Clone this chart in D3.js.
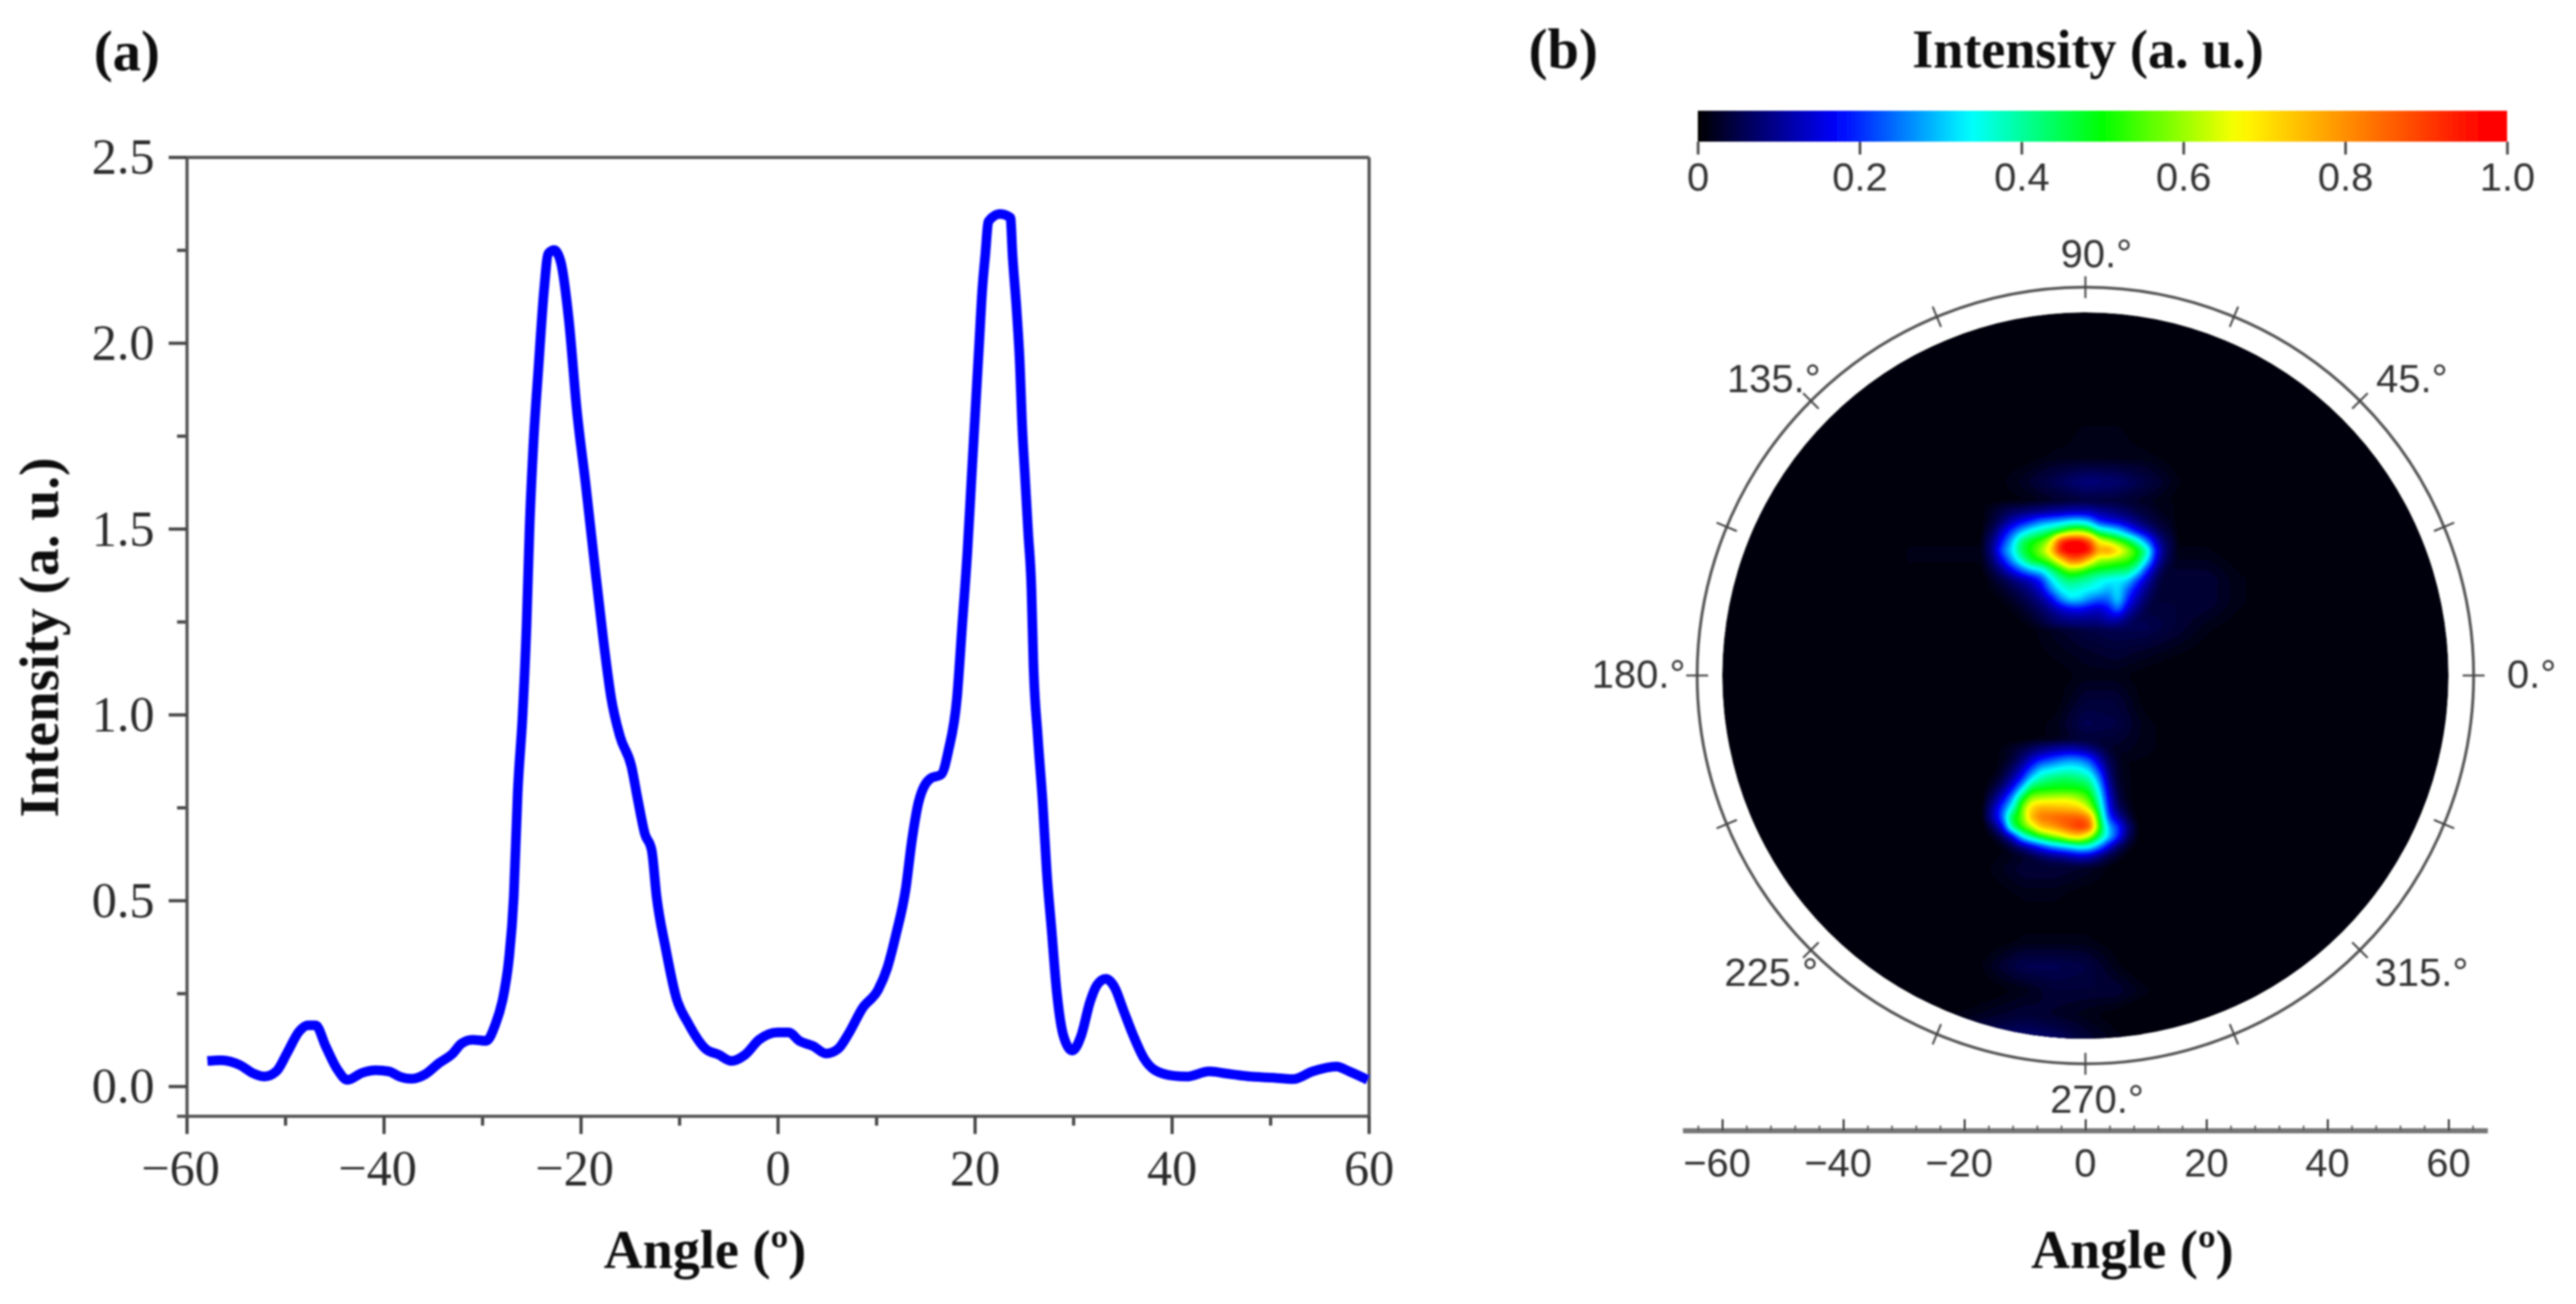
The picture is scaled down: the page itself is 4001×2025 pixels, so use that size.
<!DOCTYPE html>
<html>
<head>
<meta charset="utf-8">
<script src="https://cdn.jsdelivr.net/npm/d3@7"></script>
<style>
    html, body { margin: 0; padding: 0; background: #fff; }
    svg { display: block; }
</style>
</head>
<body>
<div id="chart"></div>
<script>
"use strict";

/***** data *****/

// panel (a), intensity against angle
const angles = [-57.9,-56.5,-54.6,-53.2,-52.1,-50.9,-49.8,-48.6,-47.7,-46.9,-45.9,-44.7,-43.7,-42.2,-40.8,-39.5,-38.3,-37.2,-35.8,-34.4,
    -33,-32.1,-31,-29.6,-28.7,-27.8,-27.3,-26.8,-26.4,-25.9,-25.5,-25.2,-24.8,-24.3,-23.7,-23.3,-22.7,-22.05,-21.2,-20.4,
    -19.5,-18.7,-17.7,-16.9,-16,-14.85,-14.2,-13.5,-12.8,-12.3,-11.4,-10.3,-9.1,-7.3,-6,-4.7,-3.3,-1.9,0,1.1,
    2.2,3.6,4.9,6.1,7.2,8.6,10.2,11.1,12,13,13.6,14.3,15.5,16.6,17.34,18.19,18.73,19.26,19.68,20,
    20.43,20.75,21.07,21.39,22.55,23.62,23.83,24.25,24.58,24.79,25.1,25.42,25.75,25.95,26.39,26.9,27.3,27.8,28.3,29,
    29.9,30.8,31.7,32.4,33.3,34.2,35.1,36.1,37.2,38.3,40.2,41.5,43.8,45.6,48,50.2,52.3,54.3,56.7,58,59.9];
const intensity = [.068,.07,.057,.034,.026,.04,.09,.147,.164,.164,.108,.045,.017,.036,.043,.04,.025,.02,.032,.062,
    .088,.115,.125,.122,.164,.25,.34,.51,.79,1.0,1.24,1.5,1.73,1.93,2.15,2.24,2.25,2.22,2.06,1.82,
    1.62,1.43,1.2,1.043,.94,.86,.77,.68,.635,.51,.374,.238,.17,.10,.085,.068,.085,.125,.145,.145,
    .122,.108,.088,.10,.142,.21,.26,.317,.408,.533,.658,.765,.828,.839,.905,1.044,1.243,1.442,1.641,1.79,
    1.99,2.139,2.238,2.327,2.347,2.337,2.238,2.088,1.94,1.79,1.64,1.49,1.34,1.14,.944,.76,.58,.42,.26,.136,
    .096,.136,.227,.272,.289,.266,.204,.136,.074,.043,.028,.026,.04,.034,.026,.023,.019,.04,.053,.04,.017];

const xMajor = [-60,-40,-20,0,20,40,60],
    xMinor = [-50,-30,-10,10,30,50],
    yMajor = [0,0.5,1,1.5,2,2.5],
    yMinor = [0.25,0.75,1.25,1.75,2.25];

// colour bar
const barStops = [0,.173,.337,.5,.667,.97,1],
    barColors = ["#000000","#0000ff","#00ffff","#00ff00","#ffff00","#ff0000","#ff0000"],
    barTicks = [0,0.2,0.4,0.6,0.8,1],
    barLabels = ["0","0.2","0.4","0.6","0.8","1.0"];

// panel (b), intensity per cell, rows run downwards. upper spot: first cell at
// (-16.88, 28.56) degrees, 1.59 degrees per cell
const upperSpot = [
    [.02,.02,.03,.03,.03,.04,.04,.05,.05,.06,.06,.06,.05,.05,.05,.04,.03,.03,.02,.02,.02],
    [.02,.03,.05,.07,.08,.09,.10,.11,.12,.13,.13,.13,.11,.10,.08,.07,.05,.04,.03,.02,.02],
    [.02,.04,.08,.13,.17,.21,.26,.28,.30,.33,.34,.30,.20,.17,.15,.12,.09,.06,.04,.03,.02],
    [.03,.06,.14,.22,.30,.36,.40,.44,.50,.58,.60,.55,.42,.38,.33,.25,.17,.12,.07,.04,.03],
    [.04,.09,.19,.30,.44,.50,.54,.64,.92,1,1,.90,.68,.62,.55,.48,.38,.25,.13,.06,.04],
    [.04,.10,.24,.33,.46,.52,.60,.72,.96,1,1,.98,.78,.82,.72,.62,.52,.40,.17,.07,.04],
    [.03,.08,.17,.28,.38,.48,.52,.58,.70,.85,.85,.72,.60,.58,.56,.54,.48,.33,.14,.06,.03],
    [.02,.05,.10,.17,.24,.30,.33,.42,.50,.58,.56,.50,.48,.47,.45,.44,.36,.20,.09,.04,.02],
    [.01,.03,.05,.08,.11,.14,.20,.32,.40,.44,.42,.40,.36,.34,.33,.32,.22,.13,.06,.03,.01],
    [.01,.02,.03,.05,.07,.10,.15,.26,.34,.37,.36,.34,.33,.29,.33,.24,.16,.09,.05,.02,.01],
    [.01,.01,.02,.03,.05,.07,.10,.16,.26,.33,.32,.27,.24,.24,.33,.20,.12,.07,.04,.02,.01],
    [0,.01,.01,.02,.03,.05,.07,.10,.14,.17,.18,.16,.14,.18,.26,.14,.09,.05,.03,.01,.01],
    [0,0,.01,.01,.02,.03,.05,.07,.09,.10,.10,.10,.10,.13,.13,.09,.06,.04,.02,.01,0],
    [0,0,0,.01,.01,.02,.03,.05,.06,.07,.07,.07,.07,.08,.07,.06,.04,.03,.02,.01,0]
];
// lower spot: first cell at (-16.88, -10.72) degrees, same step
const lowerSpot = [
    [.01,.01,.01,.02,.02,.03,.04,.04,.05,.05,.05,.04,.03,.02,.01,.01,.01],
    [.01,.01,.02,.03,.05,.07,.09,.11,.12,.13,.12,.10,.07,.04,.02,.01,.01],
    [.01,.01,.02,.04,.08,.14,.19,.22,.25,.27,.26,.22,.13,.06,.03,.01,.01],
    [.01,.01,.03,.07,.13,.22,.31,.33,.35,.36,.35,.31,.20,.08,.03,.02,.01],
    [.01,.02,.05,.11,.19,.33,.40,.43,.45,.45,.43,.40,.27,.10,.03,.02,.01],
    [.01,.04,.09,.17,.31,.47,.49,.50,.50,.50,.50,.47,.33,.13,.04,.02,.01],
    [.02,.07,.15,.27,.47,.60,.62,.63,.64,.64,.60,.54,.38,.16,.05,.02,.01],
    [.03,.11,.22,.35,.56,.72,.77,.76,.75,.74,.72,.62,.44,.18,.07,.03,.01],
    [.03,.12,.24,.48,.56,.76,.84,.85,.87,.87,.87,.82,.50,.22,.12,.05,.01],
    [.01,.06,.16,.42,.54,.62,.75,.78,.83,.88,.93,.90,.55,.30,.21,.09,.03],
    [.01,.02,.06,.14,.32,.42,.50,.57,.62,.70,.72,.62,.46,.32,.20,.07,.02],
    [0,.01,.02,.05,.09,.14,.20,.26,.30,.33,.37,.36,.27,.16,.07,.03,.01],
    [0,0,.01,.02,.03,.05,.07,.09,.10,.12,.14,.13,.09,.05,.03,.01,0],
    [0,0,0,.01,.01,.02,.03,.04,.04,.05,.05,.05,.04,.02,.01,0,0]
];
// faint glow around the spots, in hundredths. columns -30 to 30 by 5, rows 60 to -64 by -4
const faintGlow = [
    [0,0,0,0,0,0,0,0,0,0,0,0,0],
    [0,0,0,0,0,0,0,0,0,0,0,0,0],
    [0,0,0,0,0,1,1,1,0,0,0,0,0],
    [0,0,0,0,1,1,1,1,1,1,0,0,0],
    [0,0,0,1,1,1,1,1,1,1,0,0,0],
    [0,0,0,1,1,1,2,2,1,1,0,0,0],
    [0,0,0,1,1,2,2,2,2,1,0,0,0],
    [0,0,0,1,3,6,9,8,5,2,0,0,0],
    [0,0,0,1,1,2,3,3,2,1,0,0,0],
    [1,1,1,1,1,1,2,2,1,1,1,0,0],
    [2,2,2,2,2,2,2,2,2,2,2,1,0],
    [1,1,1,1,2,2,2,2,3,4,4,2,1],
    [0,1,1,1,2,3,4,4,4,4,4,2,1],
    [0,0,0,1,1,3,5,6,6,4,2,1,0],
    [0,0,0,0,1,2,3,4,3,2,1,0,0],
    [0,0,0,0,0,1,2,2,1,0,0,0,0],
    [0,0,0,0,0,1,4,4,1,0,0,0,0],
    [0,0,0,0,1,2,6,5,2,1,0,0,0],
    [0,0,0,0,1,2,3,3,2,1,0,0,0],
    [0,0,0,0,1,1,1,1,1,1,0,0,0],
    [0,0,0,1,1,1,1,1,1,1,1,0,0],
    [0,0,0,1,1,1,1,1,1,1,1,1,0],
    [0,0,0,1,2,2,2,2,1,1,1,1,0],
    [0,0,0,2,4,4,3,1,1,0,0,0,0],
    [0,0,0,1,2,2,1,1,0,0,0,0,0],
    [0,0,0,0,1,1,1,0,0,0,0,0,0],
    [0,0,0,1,2,2,2,1,0,0,0,0,0],
    [0,0,0,3,6,6,5,2,0,0,0,0,0],
    [0,0,0,1,2,4,4,4,2,0,0,0,0],
    [0,1,2,3,4,3,2,1,0,0,0,0,0],
    [0,3,5,7,8,7,4,2,1,0,0,0,0],
    [0,3,5,7,8,7,4,2,1,0,0,0,0]
];

const bAxisMajor = [-60,-40,-20,0,20,40,60],
    bAxisMinor = d3.range(-64,65,4).filter(d => d % 20 != 0),
    ringAngles = d3.range(0,360,22.5),
    ringLabels = ["0.°","45.°","90.°","135.°","180.°","225.°","270.°","315.°"];

/***** helpers *****/

const serif = "'Liberation Serif', 'Times New Roman', serif",
    sans = "'Liberation Sans', Arial, sans-serif",
    minus = d => String(d).replace("-", "\u2212");

function styleAxis(g, lineWidth) {
    g.selectAll("path.domain").attr("stroke", "#555").attr("stroke-width", lineWidth);
    g.selectAll("line").attr("stroke", "#444").attr("stroke-width", lineWidth);
}

function lookup(grid, u0, v0, stepU, stepV, u, v) {
    // bilinear read of a grid, zero outside of it
    let fc = (u - u0) / stepU,
        fr = (v0 - v) / stepV,
        c = Math.floor(fc),
        r = Math.floor(fr);
    if (r < 0 || c < 0 || r >= grid.length - 1 || c >= grid[0].length - 1) return 0;
    let a = fc - c, b = fr - r;
    return (grid[r][c] * (1 - a) + grid[r][c + 1] * a) * (1 - b)
        + (grid[r + 1][c] * (1 - a) + grid[r + 1][c + 1] * a) * b;
}

/***** canvas *****/

const svg = d3.select("#chart").append("svg")
    .attr("width", 4001)
    .attr("height", 2025)
    .attr("viewBox", "0 0 4001 2025");

svg.append("rect").attr("width", 4001).attr("height", 2025).attr("fill", "#fff");

// the source figure is a soft scan, a slight blur brings the edges closer
const defs = svg.append("defs");
defs.append("filter").attr("id", "soft")
    .attr("filterUnits", "userSpaceOnUse")
    .attr("x", 0).attr("y", 0).attr("width", 4001).attr("height", 2025)
    .append("feGaussianBlur").attr("stdDeviation", 1.5);

const root = svg.append("g").attr("filter", "url(#soft)");

/***** panel (a) *****/

const x = d3.scaleLinear().domain([-60, 60]).range([290, 2126]),
    y = d3.scaleLinear().domain([-0.08, 2.5]).range([1733, 244]);

const a = root.append("g");

a.append("g").attr("transform", `translate(0, ${y(2.5)})`)
    .call(d3.axisTop(x).tickValues([]).tickSize(0))
    .call(styleAxis, 5);
a.append("g").attr("transform", `translate(${x(60)}, 0)`)
    .call(d3.axisRight(y).tickValues([]).tickSize(0))
    .call(styleAxis, 5);

a.append("g").attr("transform", `translate(0, ${y(-0.08)})`)
    .call(d3.axisBottom(x).tickValues(xMinor).tickSize(15).tickFormat(""))
    .call(styleAxis, 5);
let xAxis = a.append("g").attr("transform", `translate(0, ${y(-0.08)})`)
    .call(d3.axisBottom(x).tickValues(xMajor).tickSize(28).tickSizeOuter(0).tickPadding(24).tickFormat(minus))
    .call(styleAxis, 5);
xAxis.selectAll("text")
    .attr("font-family", serif).attr("font-size", 78).attr("fill", "#2c2c2c")
    .attr("dx", (d, i) => d < 0 ? -10 : 0);

a.append("g").attr("transform", `translate(${x(-60)}, 0)`)
    .call(d3.axisLeft(y).tickValues(yMinor).tickSize(15).tickFormat(""))
    .call(styleAxis, 5);
let yAxis = a.append("g").attr("transform", `translate(${x(-60)}, 0)`)
    .call(d3.axisLeft(y).tickValues(yMajor).tickSize(28).tickSizeOuter(0).tickPadding(22).tickFormat(d3.format(".1f")))
    .call(styleAxis, 5);
yAxis.selectAll("text")
    .attr("font-family", serif).attr("font-size", 78).attr("fill", "#2c2c2c");

const line = d3.line().x((d, i) => x(angles[i])).y(d => y(d)).curve(d3.curveMonotoneX);

a.append("path")
    .attr("d", line(intensity))
    .attr("fill", "none")
    .attr("stroke", "#0000ff")
    .attr("stroke-width", 15)
    .attr("stroke-linejoin", "round");

function boldLabel(parent, str, px, py, size) {
    return parent.append("text").text(str)
        .attr("x", px).attr("y", py)
        .attr("dy", "0.35em")
        .attr("text-anchor", "middle")
        .attr("font-family", serif)
        .attr("font-weight", "bold")
        .attr("font-size", size)
        .attr("fill", "#111");
}

boldLabel(a, "(a)", 197, 78, 88);
boldLabel(a, "Angle (º)", 1095, 1940, 84);
boldLabel(a, "Intensity (a. u.)", 0, 0, 86)
    .attr("transform", "translate(60, 990) rotate(-90)");

/***** panel (b), colour bar *****/

const b = root.append("g");

boldLabel(b, "(b)", 2428, 75, 88);
boldLabel(b, "Intensity (a. u.)", 3243, 76, 84);

const color = d3.scaleLinear().domain(barStops).range(barColors).clamp(true),
    barX = d3.scaleLinear().domain([0, 1]).range([2637, 3894]);

let grad = defs.append("linearGradient").attr("id", "bar");
grad.selectAll("stop").data(d3.range(0, 1.001, 0.02)).enter().append("stop")
    .attr("offset", d => d)
    .attr("stop-color", d => color(d));

b.append("rect")
    .attr("x", barX(0)).attr("y", 172)
    .attr("width", barX(1) - barX(0)).attr("height", 48)
    .attr("fill", "url(#bar)");

let barAxis = b.append("g").attr("transform", "translate(0, 220)")
    .call(d3.axisBottom(barX).tickValues(barTicks).tickSize(20).tickSizeOuter(0).tickPadding(12)
        .tickFormat((d, i) => barLabels[i]));
barAxis.select("path.domain").remove();
barAxis.selectAll("line").attr("stroke", "#444").attr("stroke-width", 4);
barAxis.selectAll("text").attr("font-family", sans).attr("font-size", 62).attr("fill", "#333");

/***** panel (b), polar map *****/

const u = d3.scaleLinear().domain([-60, 60]).range([2675, 3803]),
    v = d3.scaleLinear().domain([-60, 60]).range([1613, 485]),
    radius = d3.scaleLinear().domain([0, 60]).range([0, u(60) - u(0)]);

const n = 420,
    cellSize = (u(60) - u(-60)) / n,
    step = 1.59,
    floorValue = 0.005,
    values = new Float64Array(n * n);

d3.range(n).forEach(r => {
    d3.range(n).forEach(c => {
        let uu = u.invert(u(-60) + (c + 0.5) * cellSize),
            vv = v.invert(v(60) + (r + 0.5) * cellSize);
        values[r * n + c] = Math.max(
            floorValue,
            lookup(upperSpot, -16.88, 28.56, step, step, uu, vv),
            lookup(lowerSpot, -16.88, -10.72, step, step, uu, vv),
            lookup(faintGlow, -30, 60, 5, 4, uu, vv) / 100
        );
    });
});

// cells are coarse, smooth them before tracing the colour levels
const smooth = d3.blur2({data: values, width: n, height: n}, 1).data;

const levels = d3.range(floorValue + 1 / 256, 1, 1 / 128);

const contours = d3.contours().size([n, n]).thresholds(levels)(Array.from(smooth));

const toScreen = d3.geoPath(d3.geoIdentity().scale(cellSize).translate([u(-60), v(60)]));

const centerX = u(0), centerY = v(0);

defs.append("clipPath").attr("id", "disc").append("circle")
    .attr("cx", centerX).attr("cy", centerY).attr("r", radius(60));

const map = b.append("g").attr("clip-path", "url(#disc)");

map.append("circle")
    .attr("cx", centerX).attr("cy", centerY).attr("r", radius(60))
    .attr("fill", color(floorValue));

map.selectAll("path").data(contours).enter().append("path")
    .attr("d", toScreen)
    .attr("fill", d => color(d.value));

// outer ring with its ticks
const ringR = radius(64.15),
    ring = b.append("g").attr("transform", `translate(${centerX}, ${centerY})`);

ring.append("circle").attr("r", ringR)
    .attr("fill", "none").attr("stroke", "#555").attr("stroke-width", 4.5);

ring.selectAll("line").data(ringAngles).enter().append("line")
    .attr("x1", d => (ringR - 17) * Math.cos(d * Math.PI / 180))
    .attr("y1", d => -(ringR - 17) * Math.sin(d * Math.PI / 180))
    .attr("x2", d => (ringR + 17) * Math.cos(d * Math.PI / 180))
    .attr("y2", d => -(ringR + 17) * Math.sin(d * Math.PI / 180))
    .attr("stroke", "#444").attr("stroke-width", 3);

const ringLabelSpot = [[693, -3], [507, -462], [17, -656], [-484, -462], [-694, -3], [-488, 460], [18, 657], [522, 460]];

ring.selectAll("text").data(ringLabels).enter().append("text")
    .text(d => d)
    .attr("x", (d, i) => ringLabelSpot[i][0])
    .attr("y", (d, i) => ringLabelSpot[i][1])
    .attr("dy", "0.35em")
    .attr("text-anchor", "middle")
    .attr("font-family", sans)
    .attr("font-size", 62)
    .attr("fill", "#333");

// axis under the map
const bottomAxisY = 1756;

b.append("line")
    .attr("x1", u(-66.5)).attr("x2", u(66.5))
    .attr("y1", bottomAxisY).attr("y2", bottomAxisY)
    .attr("stroke", "#777").attr("stroke-width", 8);

let bMinor = b.append("g").attr("transform", `translate(0, ${bottomAxisY})`)
    .call(d3.axisTop(u).tickValues(bAxisMinor).tickSize(8).tickFormat(""));
bMinor.select("path.domain").remove();
bMinor.selectAll("line").attr("stroke", "#555").attr("stroke-width", 2.5);

let bMajor = b.append("g").attr("transform", `translate(0, ${bottomAxisY})`)
    .call(d3.axisTop(u).tickValues(bAxisMajor).tickSize(18).tickFormat(""));
bMajor.select("path.domain").remove();
bMajor.selectAll("line").attr("stroke", "#333").attr("stroke-width", 3);

b.append("g").selectAll("text").data(bAxisMajor).enter().append("text")
    .text(minus)
    .attr("x", d => u(d) - (d < 0 ? 8 : 0))
    .attr("y", 1805)
    .attr("dy", "0.35em")
    .attr("text-anchor", "middle")
    .attr("font-family", sans)
    .attr("font-size", 62)
    .attr("fill", "#333");

boldLabel(b, "Angle (º)", 3312, 1940, 84);
</script>
</body>
</html>
